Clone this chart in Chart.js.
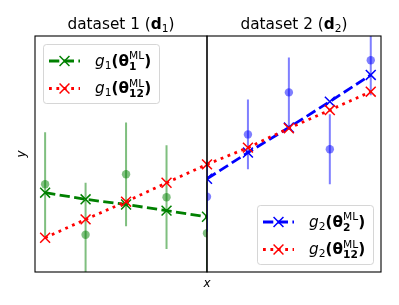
<!DOCTYPE html>
<html>
<head>
<meta charset="UTF-8">
<title>fit comparison</title>
<script src="https://cdn.jsdelivr.net/npm/chart.js"></script>
<style>
  body { margin: 0; background: #fff; }
  #wrap { position: relative; width: 399px; height: 305px; }
  .pane { position: absolute; top: 0; height: 305px; }
  #left { left: 0; width: 220px; }
  #right { left: 195px; width: 204px; }
</style>
</head>
<body>
<div id="wrap">
  <div class="pane" id="left"><canvas id="c1"></canvas></div>
  <div class="pane" id="right"><canvas id="c2"></canvas></div>
</div>
<script>
// data
const xs1 = [0, 1, 2, 3, 4];
const xs2 = [4, 5, 6, 7, 8];
const obs1 = [3.72, 1.58, 4.14, 3.17, 1.64];
const obs2 = [3.19, 5.83, 7.61, 5.20, 8.97];
const sigma1 = 2.2;
const sigma2 = 1.48;
const fitOwn1 = [3.36, 3.08, 2.86, 2.60, 2.34];
const fitOwn2 = [3.95, 5.06, 6.12, 7.22, 8.35];
const fitJoint1 = [1.45, 2.23, 2.98, 3.78, 4.56];
const fitJoint2 = [4.56, 5.27, 6.09, 6.86, 7.64];
const xRange1 = [-0.25, 4];
const xRange2 = [4, 8.25];
const yRange = [0, 10];

const FONT = "'DejaVu Sans', sans-serif";
const BIG = 15.3, SMALL = 10.7;
const F = (size, style) => `${style || ''} ${size}px ${FONT}`;

function pts(xs, ys) {
  return xs.map((x, i) => ({ x: x, y: ys[i] }));
}
function bars(xs, ys, s) {
  const out = [];
  xs.forEach((x, i) => {
    out.push({ x: x, y: ys[i] - s }, { x: x, y: ys[i] + s }, { x: x, y: null });
  });
  return out;
}

const titleRuns = n => [
  { t: 'dataset ' + n + ' (', f: F(BIG) },
  { t: 'd', f: F(BIG, 'bold') },
  { t: n, f: F(SMALL), dy: 3.3 },
  { t: ')', f: F(BIG) }
];
const fitRuns = (g, sub) => [
  { t: 'g', f: F(BIG, 'italic') },
  { t: g, f: F(SMALL), dy: 3.3 },
  { t: '(θ', f: F(BIG, 'bold') },
  { stack: [{ t: 'ML', f: F(SMALL), dy: -6.2 }, { t: sub, f: F(SMALL, 'bold'), dy: 4 }] },
  { t: ')', f: F(BIG, 'bold') }
];

function drawRuns(ctx, runs, x, y, align) {
  const widthOf = r => {
    if (r.stack) return Math.max(...r.stack.map(widthOf));
    ctx.font = r.f;
    return ctx.measureText(r.t).width;
  };
  const total = runs.reduce((s, r) => s + widthOf(r), 0);
  let cx = align === 'center' ? x - total / 2 : x;
  ctx.textAlign = 'left';
  ctx.textBaseline = 'alphabetic';
  runs.forEach(r => {
    (r.stack || [r]).forEach(p => {
      ctx.font = p.f;
      ctx.fillText(p.t, cx, y + (p.dy || 0));
    });
    cx += widthOf(r);
  });
}

function roundRect(ctx, x, y, w, h, r) {
  ctx.beginPath();
  ctx.moveTo(x + r, y);
  ctx.arcTo(x + w, y, x + w, y + h, r);
  ctx.arcTo(x + w, y + h, x, y + h, r);
  ctx.arcTo(x, y + h, x, y, r);
  ctx.arcTo(x, y, x + w, y, r);
  ctx.closePath();
}

const deco = {
  id: 'deco',
  afterDraw(chart, args, opts) {
    const ctx = chart.ctx;
    const a = chart.chartArea;
    ctx.save();
    // frame
    ctx.strokeStyle = '#000';
    ctx.lineWidth = 1.1;
    ctx.strokeRect(a.left, a.top, a.right - a.left, a.bottom - a.top);
    ctx.fillStyle = '#000';
    // title
    drawRuns(ctx, opts.title, (a.left + a.right) / 2, 29, 'center');
    // axis labels
    if (opts.ylabel) {
      ctx.save();
      ctx.translate(24.5, (a.top + a.bottom) / 2);
      ctx.rotate(-Math.PI / 2);
      ctx.font = F(12, 'italic');
      ctx.textAlign = 'center';
      ctx.fillText('y', 0, 0);
      ctx.restore();
    }
    if (opts.xlabel) {
      ctx.font = F(12, 'italic');
      ctx.textAlign = 'center';
      ctx.fillText('x', a.right, 287);
    }
    // legend
    const L = opts.legend;
    const w = 116, h = 59, pad = 8;
    const bx = L.loc === 'ul' ? a.left + pad : a.right - pad - w;
    const by = L.loc === 'ul' ? a.top + pad : a.bottom - pad - h;
    roundRect(ctx, bx + 0.5, by + 0.5, w, h, 3);
    ctx.fillStyle = 'rgba(255,255,255,0.8)';
    ctx.fill();
    ctx.strokeStyle = 'rgba(204,204,204,0.8)';
    ctx.lineWidth = 1;
    ctx.stroke();
    L.items.forEach((it, i) => {
      const ds = chart.data.datasets[it.ds];
      const cy = by + 17 + i * 27.5;
      ctx.save();
      ctx.strokeStyle = ds.borderColor;
      ctx.lineWidth = ds.borderWidth;
      ctx.setLineDash(ds.borderDash);
      ctx.beginPath();
      ctx.moveTo(bx + 6, cy);
      ctx.lineTo(bx + 37, cy);
      ctx.stroke();
      ctx.setLineDash([]);
      ctx.lineWidth = ds.pointBorderWidth;
      const mx = bx + 21.5, r = ds.pointRadius * Math.SQRT1_2;
      ctx.beginPath();
      ctx.moveTo(mx - r, cy - r); ctx.lineTo(mx + r, cy + r);
      ctx.moveTo(mx - r, cy + r); ctx.lineTo(mx + r, cy - r);
      ctx.stroke();
      ctx.restore();
      ctx.fillStyle = '#000';
      drawRuns(ctx, it.runs, bx + 52, cy + 4.5, 'left');
    });
    ctx.restore();
  }
};

function panelData(xs, obs, sigma, dataColor, own, ownColor, joint) {
  return [
    { data: bars(xs, obs, sigma), borderColor: dataColor, borderWidth: 2, pointRadius: 0, spanGaps: false, order: 4 },
    { data: pts(xs, obs), showLine: false, pointRadius: 4.2, pointBackgroundColor: dataColor, pointBorderWidth: 0, order: 3 },
    { data: pts(xs, own), borderColor: ownColor, borderWidth: 2.8, borderDash: [10.3, 4.4],
      pointStyle: 'crossRot', pointRadius: 7, pointBorderColor: ownColor, pointBorderWidth: 1.5, order: 2 },
    { data: pts(xs, joint), borderColor: '#ff0000', borderWidth: 2.8, borderDash: [2.8, 4.6],
      pointStyle: 'crossRot', pointRadius: 7, pointBorderColor: '#ff0000', pointBorderWidth: 1.5, order: 1 }
  ];
}

function makeChart(id, datasets, xr, padding, decoOpts) {
  return new Chart(document.getElementById(id), {
    type: 'line',
    data: { datasets: datasets },
    options: {
      responsive: true,
      maintainAspectRatio: false,
      animation: false,
      events: [],
      layout: { padding: padding },
      scales: {
        x: { type: 'linear', min: xr[0], max: xr[1], display: false },
        y: { min: yRange[0], max: yRange[1], display: false }
      },
      plugins: {
        legend: { display: false },
        tooltip: { enabled: false },
        deco: decoOpts
      }
    },
    plugins: [deco]
  });
}

makeChart('c1',
  panelData(xs1, obs1, sigma1, 'rgba(0,128,0,0.5)', fitOwn1, '#008000', fitJoint1),
  xRange1, { left: 35, right: 13, top: 36, bottom: 33 },
  { title: titleRuns('1'), ylabel: true, xlabel: true,
    legend: { loc: 'ul', items: [{ ds: 2, runs: fitRuns('1', '1') }, { ds: 3, runs: fitRuns('1', '12') }] } });

makeChart('c2',
  panelData(xs2, obs2, sigma2, 'rgba(0,0,255,0.5)', fitOwn2, '#0000ff', fitJoint2),
  xRange2, { left: 12, right: 18, top: 36, bottom: 33 },
  { title: titleRuns('2'), ylabel: false, xlabel: false,
    legend: { loc: 'lr', items: [{ ds: 2, runs: fitRuns('2', '2') }, { ds: 3, runs: fitRuns('2', '12') }] } });
</script>
</body>
</html>
